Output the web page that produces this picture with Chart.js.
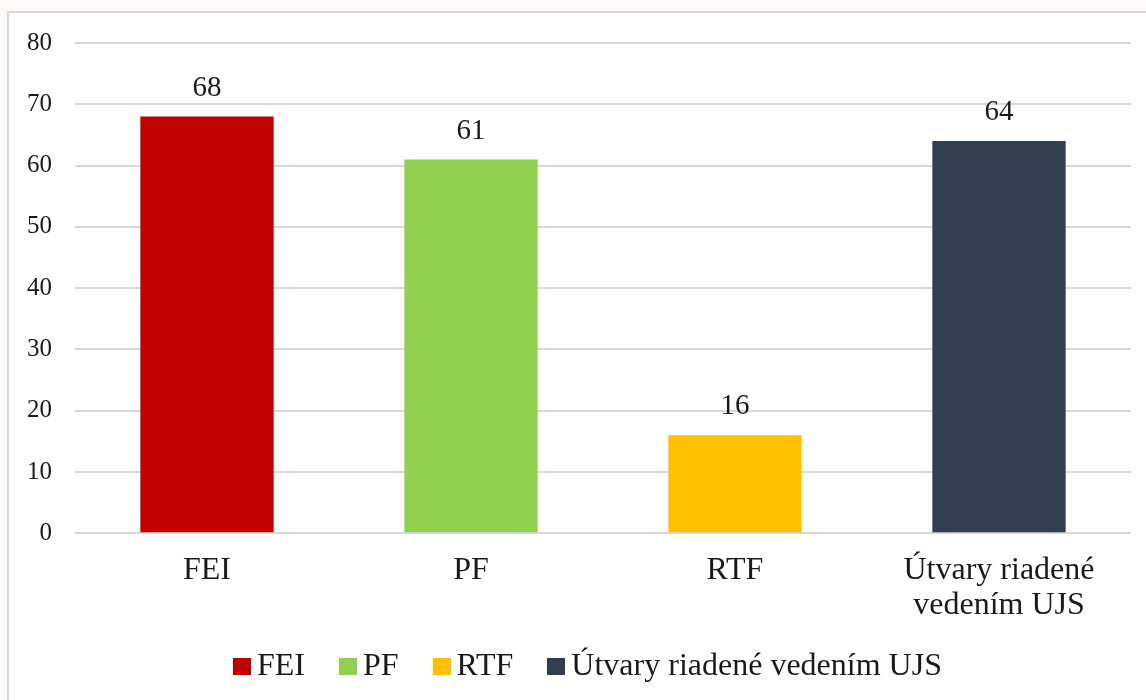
<!DOCTYPE html>
<html lang="sk">
<head>
    <meta charset="UTF-8">
    <title>Graf</title>
    <script src="https://cdn.jsdelivr.net/npm/chart.js"></script>
    <style>
        html, body { margin: 0; padding: 0; background: #FAF9F7; overflow: hidden; }
        .panel {
            position: absolute;
            left: 7px;
            top: 11px;
            width: 1200px;
            height: 750px;
            background: #fff;
            border: 2px solid #D9D9D9;
        }
        .wrap {
            position: absolute;
            left: 0; top: 0;
            width: 1146px; height: 700px;
        }
        /* legenda pod grafom */
        .legenda {
            position: absolute;
            left: 233px;
            top: 648px;
            white-space: nowrap;
            font-family: 'Liberation Serif', 'Times New Roman', serif;
            font-size: 32px;
            line-height: 32px;
            color: #1a1a1a;
        }
        .legenda .polozka { margin-right: 34px; }
        .legenda .box {
            display: inline-block;
            width: 18px;
            height: 17px;
            margin-right: 6px;
        }
    </style>
</head>
<body>
    <div class="panel"></div>
    <div class="wrap"><canvas id="graf"></canvas></div>
    <div class="legenda" id="legenda"></div>

    <script>
        // dáta grafu
        const kategorie = ['FEI', 'PF', 'RTF', ['Útvary riadené', 'vedením UJS']];
        const legenda = ['FEI', 'PF', 'RTF', 'Útvary riadené vedením UJS'];
        const hodnoty = [68, 61, 16, 64];
        const farby = ['#C00000', '#92D050', '#FFC000', '#333F50'];

        const pismo = 'Liberation Serif, Times New Roman, serif';

        // popisky hodnôt nad stĺpcami
        const popisky = {
            id: 'popisky',
            afterDatasetsDraw(chart) {
                const ctx = chart.ctx;
                const meta = chart.getDatasetMeta(0);
                ctx.save();
                ctx.font = '29px ' + pismo;
                ctx.fillStyle = '#1a1a1a';
                ctx.textAlign = 'center';
                ctx.textBaseline = 'bottom';
                meta.data.forEach((bar, i) => {
                    ctx.fillText(hodnoty[i], bar.x, bar.y - 14);
                });
                ctx.restore();
            }
        };

        new Chart(document.getElementById('graf'), {
            type: 'bar',
            data: {
                labels: kategorie,
                datasets: [{
                    data: hodnoty,
                    backgroundColor: farby,
                    borderWidth: 0,
                    barPercentage: 0.505,
                    categoryPercentage: 1
                }]
            },
            options: {
                responsive: true,
                maintainAspectRatio: false,
                animation: false,
                layout: { padding: { left: 4, right: 15, top: 43, bottom: 57 } },
                scales: {
                    y: {
                        min: 0,
                        max: 80,
                        ticks: {
                            stepSize: 10,
                            padding: 23,
                            color: '#1a1a1a',
                            font: { family: pismo, size: 25 }
                        },
                        grid: { color: '#D9D9D9', lineWidth: 2, drawTicks: false },
                        border: { display: false }
                    },
                    x: {
                        ticks: {
                            padding: 19,
                            color: '#1a1a1a',
                            maxRotation: 0,
                            font: { family: pismo, size: 32, lineHeight: 1.12 }
                        },
                        grid: { display: false, drawTicks: false },
                        border: { display: false }
                    }
                },
                plugins: {
                    legend: { display: false },
                    tooltip: { enabled: false }
                }
            },
            plugins: [popisky]
        });

        // legenda ako HTML
        const leg = document.getElementById('legenda');
        legenda.forEach((t, i) => {
            const el = document.createElement('span');
            el.className = 'polozka';
            el.innerHTML = `<span class="box" style="background:${farby[i]}"></span>${t}`;
            leg.appendChild(el);
        });
    </script>
</body>
</html>
